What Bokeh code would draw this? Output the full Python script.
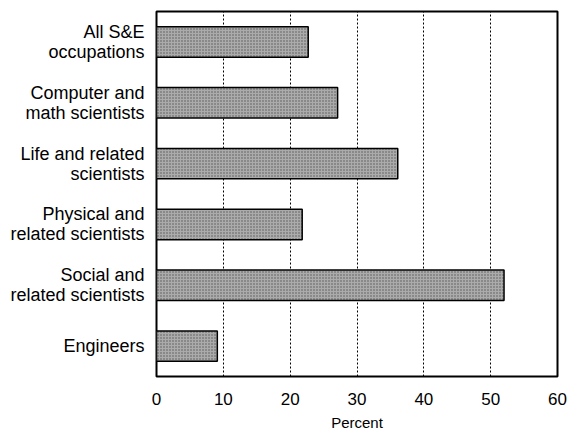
from bokeh.plotting import figure
from bokeh.models import Range1d, FactorRange
from bokeh.embed import file_html
from bokeh.resources import INLINE

categories = [
    "All S&E\noccupations",
    "Computer and\nmath scientists",
    "Life and related\nscientists",
    "Physical and\nrelated scientists",
    "Social and\nrelated scientists",
    "Engineers",
]
values = [22.7, 27.1, 36.1, 21.8, 52.0, 9.1]
x_ticks = [0, 10, 20, 30, 40, 50, 60]

p = figure(
    width=570, height=433,
    y_range=FactorRange(factors=list(reversed(categories))),
    x_range=Range1d(0, 60),
    output_backend="svg", toolbar_location=None,
    min_border_left=156, min_border_right=13, min_border_top=11, min_border_bottom=55,
)
p.hbar(y=categories, right=values, left=0, height=0.5,
       fill_color="#ababab", line_color="black", line_width=1.5,
       hatch_pattern="dot", hatch_color="#555555", hatch_scale=3, hatch_weight=1)

p.outline_line_color = "black"
p.outline_line_width = 2
p.outline_line_alpha = 1

p.xaxis.ticker = x_ticks
p.xaxis.axis_label = "Percent"
p.xaxis.axis_label_text_font = "Liberation Sans"
p.xaxis.axis_label_text_font_size = "15px"
p.xaxis.axis_label_text_font_style = "normal"
p.xaxis.axis_label_text_color = "black"
p.xaxis.axis_label_standoff = 6
p.xaxis.major_label_text_font = "Liberation Sans"
p.xaxis.major_label_text_font_size = "17px"
p.xaxis.major_label_text_color = "black"
p.xaxis.major_label_standoff = 10

p.yaxis.major_label_text_font = "Liberation Sans"
p.yaxis.major_label_text_font_size = "18px"
p.yaxis.major_label_text_color = "black"
p.yaxis.major_label_text_line_height = 1.0
p.yaxis.major_label_standoff = 6

for ax in (p.xaxis, p.yaxis):
    ax.axis_line_color = None
    ax.major_tick_line_color = None
    ax.minor_tick_line_color = None

p.xgrid.grid_line_color = "black"
p.xgrid.grid_line_dash = "2 2"
p.xgrid.grid_line_width = 1
p.ygrid.grid_line_color = None
p.background_fill_color = "white"
p.border_fill_color = "white"

open("out.html", "w").write(file_html(p, INLINE))
